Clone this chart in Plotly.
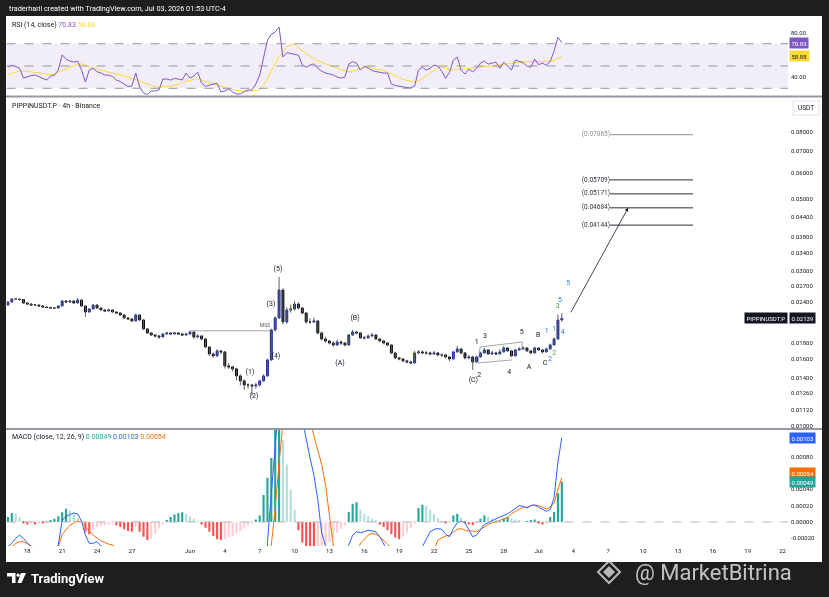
import numpy as np
import pandas as pd
import plotly.graph_objects as go

W, H = 829, 597


def px(x):
    return x / W


def py(y):
    return 1 - y / H


# chart is 4h, read back here as 8h bars (May 16 08:00 -> Jul 03 00:00)
times = pd.date_range("2026-05-16 08:00", periods=144, freq="8h")
first_open = 0.02352
closes = [
    0.02403, 0.02454, 0.02454, 0.02445, 0.02386, 0.02369, 0.02352, 0.02352, 0.02336, 0.02319,
    0.02311, 0.02303, 0.02303, 0.02336, 0.02420, 0.02403, 0.02420, 0.02386, 0.02437, 0.02336,
    0.02239, 0.02287, 0.02352, 0.02303, 0.02271, 0.02255, 0.02271, 0.02239, 0.02223, 0.02192,
    0.02146, 0.02131, 0.02101, 0.02192, 0.02116, 0.01986, 0.01930, 0.01902, 0.01889, 0.01876,
    0.01916, 0.01930, 0.01916, 0.01930, 0.01916, 0.01902, 0.01916, 0.01943, 0.01876, 0.01889,
    0.01849, 0.01747, 0.01663, 0.01640, 0.01699, 0.01687, 0.01528, 0.01517, 0.01496, 0.01423,
    0.01374, 0.01335, 0.01335, 0.01326, 0.01335, 0.01374, 0.01423, 0.01594, 0.01971, 0.02146,
    0.02616, 0.02086, 0.02271, 0.02287, 0.02369, 0.02303, 0.02223, 0.02086, 0.02086, 0.02101,
    0.01930, 0.01849, 0.01823, 0.01797, 0.01772, 0.01810, 0.01797, 0.01772, 0.01902, 0.01943,
    0.01930, 0.01863, 0.01863, 0.01889, 0.01902, 0.01849, 0.01823, 0.01797, 0.01772, 0.01675,
    0.01617, 0.01605, 0.01583, 0.01571, 0.01560, 0.01675, 0.01687, 0.01675, 0.01675, 0.01663,
    0.01675, 0.01651, 0.01651, 0.01628, 0.01605, 0.01687, 0.01723, 0.01675, 0.01617, 0.01628,
    0.01571, 0.01628, 0.01675, 0.01711, 0.01663, 0.01675, 0.01663, 0.01687, 0.01735, 0.01699,
    0.01640, 0.01711, 0.01723, 0.01735, 0.01699, 0.01675, 0.01735, 0.01711, 0.01687, 0.01723,
    0.01772, 0.01849, 0.02116, 0.02139,
]
highs = [
    0.02420, 0.02470, 0.02475, 0.02468, 0.02450, 0.02400, 0.02380, 0.02370, 0.02360, 0.02345,
    0.02330, 0.02325, 0.02320, 0.02350, 0.02440, 0.02435, 0.02440, 0.02430, 0.02470, 0.02445,
    0.02345, 0.02300, 0.02370, 0.02360, 0.02315, 0.02285, 0.02290, 0.02280, 0.02250, 0.02235,
    0.02200, 0.02160, 0.02140, 0.02215, 0.02200, 0.02125, 0.01995, 0.01940, 0.01915, 0.01900,
    0.01930, 0.01945, 0.01940, 0.01945, 0.01940, 0.01925, 0.01930, 0.01960, 0.01950, 0.01910,
    0.01900, 0.01855, 0.01755, 0.01680, 0.01720, 0.01710, 0.01695, 0.01560, 0.01530, 0.01505,
    0.01440, 0.01390, 0.01350, 0.01345, 0.01355, 0.01385, 0.01440, 0.01610, 0.01990, 0.02170,
    0.02870, 0.02650, 0.02310, 0.02360, 0.02420, 0.02400, 0.02320, 0.02240, 0.02140, 0.02150,
    0.02110, 0.01950, 0.01880, 0.01840, 0.01820, 0.01840, 0.01830, 0.01810, 0.01915, 0.01975,
    0.01960, 0.01940, 0.01890, 0.01910, 0.01930, 0.01910, 0.01860, 0.01835, 0.01810, 0.01780,
    0.01690, 0.01630, 0.01615, 0.01595, 0.01585, 0.01700, 0.01710, 0.01705, 0.01700, 0.01690,
    0.01700, 0.01685, 0.01670, 0.01665, 0.01640, 0.01700, 0.01760, 0.01730, 0.01685, 0.01650,
    0.01640, 0.01645, 0.01690, 0.01735, 0.01720, 0.01700, 0.01690, 0.01720, 0.01760, 0.01745,
    0.01710, 0.01725, 0.01745, 0.01755, 0.01745, 0.01710, 0.01750, 0.01745, 0.01720, 0.01740,
    0.01790, 0.01870, 0.02200, 0.02220,
]
lows = [
    0.02340, 0.02395, 0.02435, 0.02430, 0.02370, 0.02355, 0.02340, 0.02335, 0.02320, 0.02305,
    0.02298, 0.02290, 0.02288, 0.02295, 0.02330, 0.02390, 0.02395, 0.02375, 0.02380, 0.02320,
    0.02161, 0.02225, 0.02280, 0.02290, 0.02260, 0.02240, 0.02245, 0.02225, 0.02210, 0.02180,
    0.02130, 0.02120, 0.02085, 0.02095, 0.02100, 0.01970, 0.01915, 0.01890, 0.01870, 0.01850,
    0.01870, 0.01905, 0.01905, 0.01910, 0.01905, 0.01890, 0.01895, 0.01910, 0.01850, 0.01860,
    0.01830, 0.01735, 0.01640, 0.01620, 0.01630, 0.01660, 0.01500, 0.01495, 0.01470, 0.01380,
    0.01330, 0.01290, 0.01300, 0.01240, 0.01300, 0.01320, 0.01365, 0.01415, 0.01585, 0.01950,
    0.02130, 0.02050, 0.02060, 0.02230, 0.02260, 0.02280, 0.02200, 0.02060, 0.02060, 0.02070,
    0.01910, 0.01830, 0.01800, 0.01780, 0.01750, 0.01760, 0.01770, 0.01755, 0.01765, 0.01890,
    0.01910, 0.01850, 0.01845, 0.01855, 0.01880, 0.01835, 0.01810, 0.01780, 0.01755, 0.01660,
    0.01600, 0.01590, 0.01570, 0.01555, 0.01545, 0.01555, 0.01660, 0.01660, 0.01655, 0.01645,
    0.01650, 0.01635, 0.01630, 0.01610, 0.01580, 0.01600, 0.01680, 0.01660, 0.01600, 0.01600,
    0.01485, 0.01560, 0.01620, 0.01665, 0.01650, 0.01655, 0.01650, 0.01655, 0.01680, 0.01690,
    0.01625, 0.01635, 0.01700, 0.01715, 0.01690, 0.01660, 0.01670, 0.01700, 0.01670, 0.01680,
    0.01715, 0.01765, 0.01840, 0.02090,
]

rsi = [
    49.0, 50.8, 49.5, 48.1, 39.2, 40.5, 41.4, 41.9, 40.5, 39.2,
    37.4, 41.0, 41.9, 46.3, 60.0, 56.2, 54.4, 53.5, 54.4, 46.3,
    35.6, 46.3, 48.1, 44.8, 43.7, 41.9, 41.9, 40.5, 37.4, 36.1,
    33.8, 31.6, 32.1, 43.7, 31.2, 25.8, 24.4, 27.6, 27.6, 28.5,
    38.3, 38.3, 37.4, 38.8, 38.3, 37.4, 43.7, 39.2, 41.0, 44.4,
    34.7, 31.6, 32.9, 33.8, 34.5, 26.7, 27.6, 29.4, 26.7, 24.9,
    24.9, 27.1, 28.5, 28.5, 33.8, 41.9, 56.2, 73.1, 78.5, 80.5,
    85.0, 58.0, 62.0, 61.1, 60.6, 59.7, 50.8, 49.0, 50.8, 52.0,
    48.1, 45.4, 43.7, 42.8, 41.9, 40.1, 39.2, 40.1, 51.7, 53.8,
    52.6, 46.3, 49.9, 48.1, 45.9, 45.0, 44.1, 43.7, 43.7, 33.8,
    32.5, 31.6, 31.2, 30.7, 30.3, 32.1, 46.3, 49.0, 46.3, 48.1,
    50.8, 49.9, 45.4, 38.9, 44.4, 55.3, 58.0, 46.3, 42.8, 47.2,
    44.6, 48.1, 52.6, 54.4, 51.7, 52.6, 53.5, 47.9, 53.5, 49.9,
    46.3, 55.3, 54.0, 53.0, 49.9, 49.0, 56.2, 51.2, 52.6, 50.8,
    54.0, 63.3, 75.8, 70.83,
]
rsi_ma = [
    42.2, 43.5, 44.8, 45.6, 45.5, 45.2, 44.9, 44.6, 44.0, 43.2,
    42.5, 42.0, 42.8, 44.5, 46.0, 47.6, 49.2, 50.2, 51.5, 52.0,
    50.5, 49.3, 48.0, 47.0, 46.2, 45.6, 45.0, 44.0, 42.9, 42.0,
    41.1, 40.0, 38.8, 37.4, 36.2, 35.0, 33.8, 32.6, 31.3, 31.0,
    31.2, 31.6, 32.0, 32.6, 33.5, 35.0, 36.2, 37.0, 38.2, 38.7,
    37.5, 36.5, 35.5, 34.5, 33.5, 32.2, 31.0, 29.8, 28.7, 28.2,
    27.7, 27.3, 27.0, 27.5, 28.0, 28.5, 33.0, 38.5, 45.5, 52.5,
    58.5, 62.5, 67.1, 69.0, 69.8, 66.5, 63.3, 61.0, 59.0, 56.8,
    54.8, 53.3, 52.0, 50.5, 49.3, 47.5, 46.3, 45.5, 44.9, 45.5,
    46.5, 47.5, 48.8, 49.0, 47.8, 47.0, 46.5, 46.2, 44.5, 42.5,
    40.5, 39.2, 38.0, 37.0, 36.3, 35.8, 36.5, 38.8, 41.0, 43.4,
    46.0, 48.5, 48.8, 48.0, 47.0, 46.3, 46.6, 47.0, 47.3, 47.8,
    48.1, 48.4, 48.7, 49.1, 49.4, 49.8, 50.1, 50.5, 50.9, 51.6,
    52.3, 53.0, 53.7, 53.8, 53.8, 53.8, 53.8, 53.8, 53.8, 54.0,
    54.3, 55.0, 57.0, 58.88,
]

macd = [
    -0.00030, -0.00026, -0.00020, -0.00016, -0.00020, -0.00026, -0.00032, -0.00036, -0.00038, -0.00040,
    -0.00040, -0.00038, -0.00034, -0.00028, 0.00002, 0.00007, 0.00009, 0.00011, 0.00010, 0.00001,
    -0.00016, -0.00026, -0.00026, -0.00024, -0.00029, -0.00032, -0.00034, -0.00037, -0.00040, -0.00044,
    -0.00049, -0.00053, -0.00058, -0.00055, -0.00058, -0.00066, -0.00074, -0.00080, -0.00085, -0.00088,
    -0.00087, -0.00085, -0.00083, -0.00080, -0.00078, -0.00077, -0.00075, -0.00071, -0.00072, -0.00072,
    -0.00074, -0.00083, -0.00095, -0.00105, -0.00107, -0.00108, -0.00120, -0.00130, -0.00138, -0.00148,
    -0.00158, -0.00166, -0.00170, -0.00172, -0.00170, -0.00162, -0.00148, -0.00025, 0.00035, 0.00094,
    0.00150, 0.00160, 0.00170, 0.00172, 0.00170, 0.00155, 0.00125, 0.00099, 0.00078, 0.00057,
    0.00027, -0.00013, -0.00032, -0.00045, -0.00052, -0.00055, -0.00052, -0.00045, -0.00028, -0.00016,
    -0.00012, -0.00013, -0.00012, -0.00010, -0.00011, -0.00012, -0.00018, -0.00028, -0.00035, -0.00045,
    -0.00055, -0.00062, -0.00066, -0.00068, -0.00068, -0.00058, -0.00048, -0.00030, -0.00020, -0.00012,
    -0.00009, -0.00008, -0.00009, -0.00015, -0.00018, -0.00008, -0.00001, 0.00001, -0.00001, -0.00010,
    -0.00018, -0.00016, -0.00010, -0.00003, -0.00001, 0.00002, 0.00004, 0.00006, 0.00008, 0.00010,
    0.00013, 0.00016, 0.00020, 0.00019, 0.00017, 0.00020, 0.00021, 0.00018, 0.00015, 0.00013,
    0.00015, 0.00030, 0.00073, 0.00103,
]
signal = [
    -0.00032, -0.00030, -0.00026, -0.00024, -0.00024, -0.00027, -0.00029, -0.00031, -0.00033, -0.00035,
    -0.00037, -0.00038, -0.00038, -0.00030, -0.00015, -0.00009, -0.00004, -0.00001, 0.00001, 0.00000,
    -0.00006, -0.00011, -0.00016, -0.00020, -0.00023, -0.00025, -0.00027, -0.00028, -0.00031, -0.00034,
    -0.00038, -0.00042, -0.00046, -0.00050, -0.00053, -0.00057, -0.00062, -0.00067, -0.00072, -0.00076,
    -0.00079, -0.00081, -0.00082, -0.00082, -0.00081, -0.00080, -0.00079, -0.00077, -0.00076, -0.00075,
    -0.00075, -0.00077, -0.00081, -0.00087, -0.00092, -0.00097, -0.00103, -0.00110, -0.00117, -0.00125,
    -0.00133, -0.00140, -0.00147, -0.00152, -0.00155, -0.00155, -0.00150, -0.00080, -0.00028, 0.00017,
    0.00072, 0.00120, 0.00140, 0.00155, 0.00163, 0.00165, 0.00160, 0.00150, 0.00125, 0.00105,
    0.00088, 0.00070, 0.00045, 0.00009, -0.00028, -0.00040, -0.00046, -0.00050, -0.00050, -0.00046,
    -0.00040, -0.00026, -0.00021, -0.00016, -0.00014, -0.00015, -0.00018, -0.00022, -0.00027, -0.00032,
    -0.00037, -0.00043, -0.00049, -0.00054, -0.00058, -0.00060, -0.00058, -0.00053, -0.00046, -0.00040,
    -0.00034, -0.00022, -0.00019, -0.00017, -0.00016, -0.00012, -0.00009, -0.00008, -0.00010, -0.00011,
    -0.00011, -0.00012, -0.00009, -0.00005, -0.00003, -0.00001, 0.00000, 0.00002, 0.00004, 0.00005,
    0.00010, 0.00013, 0.00016, 0.00018, 0.00018, 0.00020, 0.00020, 0.00020, 0.00018, 0.00016,
    0.00018, 0.00023, 0.00040, 0.00054,
]
hist = [
    0.00006, 0.00011, 0.00010, 0.00006, -0.00002, -0.00003, -0.00002, -0.00003, -0.00002, -0.00002,
    -0.00001, 0.00002, 0.00004, 0.00007, 0.00012, 0.00016, 0.00014, 0.00010, 0.00005, 0.00001,
    -0.00012, -0.00015, -0.00010, -0.00006, -0.00005, -0.00004, -0.00003, -0.00002, -0.00004, -0.00006,
    -0.00009, -0.00011, -0.00012, -0.00006, -0.00012, -0.00018, -0.00022, -0.00020, -0.00014, -0.00008,
    -0.00003, 0.00002, 0.00006, 0.00009, 0.00011, 0.00012, 0.00010, 0.00007, 0.00004, 0.00001,
    -0.00003, -0.00007, -0.00012, -0.00017, -0.00021, -0.00022, -0.00021, -0.00019, -0.00017, -0.00014,
    -0.00011, -0.00008, -0.00005, -0.00002, 0.00003, 0.00008, 0.00033, 0.00054, 0.00078, 0.00130,
    0.00140, 0.00100, 0.00070, 0.00039, 0.00015, -0.00010, -0.00025, -0.00032, -0.00036, -0.00036,
    -0.00034, -0.00030, -0.00028, -0.00024, -0.00019, -0.00013, -0.00008, -0.00004, 0.00012, 0.00022,
    0.00024, 0.00015, 0.00010, 0.00007, 0.00004, 0.00002, -0.00003, -0.00006, -0.00010, -0.00015,
    -0.00019, -0.00021, -0.00018, -0.00013, -0.00008, -0.00002, 0.00017, 0.00021, 0.00020, 0.00015,
    0.00010, 0.00005, 0.00001, -0.00002, -0.00001, 0.00008, 0.00010, 0.00005, -0.00002, -0.00003,
    -0.00004, -0.00002, 0.00004, 0.00008, 0.00006, 0.00004, 0.00003, 0.00002, 0.00004, 0.00006,
    0.00005, 0.00003, 0.00002, 0.00001, 0.00001, 0.00002, 0.00003, -0.00002, -0.00003, -0.00002,
    0.00006, 0.00012, 0.00035, 0.00049,
]

tick_dates = ["2026-05-18", "2026-05-21", "2026-05-24", "2026-05-27", "2026-06-01", "2026-06-04",
              "2026-06-07", "2026-06-10", "2026-06-13", "2026-06-16", "2026-06-19", "2026-06-22",
              "2026-06-25", "2026-06-28", "2026-07-01", "2026-07-04", "2026-07-07", "2026-07-10",
              "2026-07-13", "2026-07-16", "2026-07-19", "2026-07-22"]
tick_labels = ["18", "21", "24", "27", "Jun", "4", "7", "10", "13", "16", "19", "22",
               "25", "28", "Jul", "4", "7", "10", "13", "16", "19", "22"]

price_ticks = [0.08, 0.07, 0.06, 0.05, 0.044, 0.038, 0.034, 0.03, 0.027, 0.024,
               0.018, 0.016, 0.014, 0.0126, 0.0112, 0.01]
rsi_ticks = [80, 40]
macd_ticks = [0.0008, 0.0004, 0.0002, 0.0, -0.0002]

# target levels drawn on the right
targets = [0.07865, 0.05709, 0.05171, 0.04684, 0.04144]
target_start = "2026-07-07 03:30"
target_end = "2026-07-14 07:00"

# elliott wave labels, one group per colour
wave_black_text = ["(5)", "(3)", "(4)", "(1)", "(2)", "(B)", "(A)", "1", "3", "5", "B", "(C)",
                   "2", "4", "A", "C"]
wave_black_time = ["2026-06-08 13:48", "2026-06-07 23:20", "2026-06-08 09:30", "2026-06-06 03:58",
                   "2026-06-06 12:13", "2026-06-15 04:48", "2026-06-13 21:50", "2026-06-25 16:12",
                   "2026-06-26 09:22", "2026-06-29 13:07", "2026-06-30 23:25", "2026-06-25 09:10",
                   "2026-06-25 21:33", "2026-06-28 11:31", "2026-06-30 04:13", "2026-07-01 13:16"]
wave_black_price = [0.03036, 0.02369, 0.01640, 0.01464, 0.01236, 0.02146, 0.01560, 0.01810,
                    0.01889, 0.01936, 0.01902, 0.01377, 0.01433, 0.01457, 0.01513, 0.01557]
wave_blue_text = ["1", "2", "4", "5", "5"]
wave_blue_time = ["2026-07-01 16:47", "2026-07-01 23:36", "2026-07-03 01:50", "2026-07-02 20:14",
                  "2026-07-03 13:24"]
wave_blue_price = [0.01947, 0.01605, 0.01933, 0.02437, 0.02752]
wave_green_text = ["1", "2", "3"]
wave_green_time = ["2026-07-02 08:28", "2026-07-02 08:28", "2026-07-02 15:29"]
wave_green_price = [0.01986, 0.01671, 0.02324]

mss_price = 0.0196
mss_time = ["2026-06-01 00:30", "2026-06-07 21:16"]
channel_time = ["2026-06-28 17:07", "2026-06-25 19:05", "2026-06-25 23:13", "2026-06-29 13:58",
                "2026-06-29 13:58"]
channel_price = [0.01594, 0.01560, 0.01747, 0.01810, 0.01711]

FONT = "Roboto, sans-serif"
INK = "#131722"
UP = "#1c2a9c"
DOWN = "#000000"

opens = [first_open] + closes[:-1]
body_hi = np.maximum(opens, closes)
body_lo = np.minimum(opens, closes)

wick_x, wick_y = [], []
for t, lo, hi in zip(times, lows, highs):
    wick_x += [t, t, None]
    wick_y += [lo, hi, None]

hist_colors = []
prev = 0
for h in hist:
    if h >= 0:
        hist_colors.append("#26a69a" if h >= prev else "#b2dfdb")
    else:
        hist_colors.append("#ff5252" if h <= prev else "#ffcdd2")
    prev = h

fig = go.Figure()

# price pane
fig.add_trace(go.Scatter(x=wick_x, y=wick_y, mode="lines", line=dict(color="#5d606b", width=1),
                         xaxis="x", yaxis="y", hoverinfo="skip"))
fig.add_trace(go.Candlestick(x=times, open=opens, high=body_hi, low=body_lo, close=closes,
                             increasing=dict(line=dict(color=UP, width=1), fillcolor=UP),
                             decreasing=dict(line=dict(color=DOWN, width=1), fillcolor=DOWN),
                             whiskerwidth=0, xaxis="x", yaxis="y"))
fig.add_trace(go.Scatter(x=mss_time, y=[mss_price, mss_price], mode="lines",
                         line=dict(color="#a3a6af", width=1), xaxis="x", yaxis="y"))
fig.add_trace(go.Scatter(x=channel_time, y=channel_price, mode="lines",
                         line=dict(color="#8c8f99", width=0.8), xaxis="x", yaxis="y"))
for i, tp in enumerate(targets):
    col = "#8c8f99" if i == 0 else "#2a2e39"
    fig.add_trace(go.Scatter(x=[target_start, target_end], y=[tp, tp], mode="lines",
                             line=dict(color=col, width=1), xaxis="x", yaxis="y"))
    fig.add_trace(go.Scatter(x=[target_start], y=[tp], mode="text", text=[f"({tp:.5f})"],
                             textposition="middle left",
                             textfont=dict(family=FONT, size=6.5, color=col), xaxis="x", yaxis="y"))
for wt, wx, wy, wc in [(wave_black_text, wave_black_time, wave_black_price, INK),
                       (wave_blue_text, wave_blue_time, wave_blue_price, "#2979ff"),
                       (wave_green_text, wave_green_time, wave_green_price, "#43a047")]:
    fig.add_trace(go.Scatter(x=wx, y=wy, mode="text", text=wt,
                             textfont=dict(family=FONT, size=7, color=wc), xaxis="x", yaxis="y"))
fig.add_trace(go.Scatter(x=["2026-06-07 10:57"], y=[0.02028], mode="text", text=["MSS"],
                         textfont=dict(family=FONT, size=5, color="#50535e"), xaxis="x", yaxis="y"))

# RSI pane
fig.add_trace(go.Scatter(x=times, y=rsi_ma, mode="lines", line=dict(color="#fdd835", width=1),
                         xaxis="x2", yaxis="y2"))
fig.add_trace(go.Scatter(x=times, y=rsi, mode="lines", line=dict(color="#7e57c2", width=1),
                         xaxis="x2", yaxis="y2"))

# MACD pane
fig.add_trace(go.Bar(x=times, y=hist, marker=dict(color=hist_colors, line=dict(width=0)),
                     width=0.55 * 8 * 3600 * 1000, xaxis="x3", yaxis="y3"))
fig.add_trace(go.Scatter(x=times, y=signal, mode="lines", line=dict(color="#ff6d00", width=1),
                         xaxis="x3", yaxis="y3"))
fig.add_trace(go.Scatter(x=times, y=macd, mode="lines", line=dict(color="#2962ff", width=1),
                         xaxis="x3", yaxis="y3"))

xrange = ["2026-05-16 05:02", "2026-07-22 11:10"]
xdom = [px(6.5), px(788)]
xbase = dict(type="date", range=xrange, domain=xdom, showgrid=False, zeroline=False,
             showline=False, ticks="", fixedrange=True, rangeslider=dict(visible=False))
ybase = dict(side="right", showgrid=False, zeroline=False, showline=False, ticks="",
             tickfont=dict(family=FONT, size=6, color=INK), ticklabelstandoff=2)

fig.update_layout(
    width=W, height=H, margin=dict(l=0, r=0, t=0, b=0), template="none",
    paper_bgcolor="#1e1e1e", plot_bgcolor="white", showlegend=False, boxgap=0.3,
    xaxis=dict(xbase, anchor="y", showticklabels=False),
    xaxis2=dict(xbase, anchor="y2", showticklabels=False),
    xaxis3=dict(xbase, anchor="y3", tickvals=tick_dates, ticktext=tick_labels,
                tickfont=dict(family=FONT, size=6, color=INK)),
    yaxis=dict(ybase, anchor="x", type="log", domain=[py(428), py(98)],
               range=[-2.00705, -0.99135], tickvals=price_ticks,
               ticktext=[f"{v:.5f}" for v in price_ticks]),
    yaxis2=dict(ybase, anchor="x2", domain=[py(95.5), py(17.5)], range=[23.54, 93.5],
                tickvals=rsi_ticks, ticktext=[f"{v:.2f}" for v in rsi_ticks]),
    yaxis3=dict(ybase, anchor="x3", domain=[py(546), py(430)], range=[-0.000293, 0.001122],
                tickvals=macd_ticks, ticktext=[f"{v:.5f}" for v in macd_ticks]),
)

shapes = [
    # white chart card over the dark frame
    dict(type="rect", xref="paper", yref="paper", x0=px(6), x1=px(822), y0=py(562), y1=py(16),
         fillcolor="white", line=dict(width=0), layer="below"),
    dict(type="rect", xref="x2 domain", yref="y2", x0=0, x1=1, y0=30, y1=70,
         fillcolor="rgba(126,87,194,0.1)", line=dict(width=0), layer="below"),
    # pane separators
    dict(type="line", xref="paper", yref="paper", x0=px(6), x1=px(822), y0=py(96.5), y1=py(96.5),
         line=dict(color="#9598a1", width=2)),
    dict(type="line", xref="paper", yref="paper", x0=px(6), x1=px(822), y0=py(429), y1=py(429),
         line=dict(color="#9598a1", width=2)),
    # USDT button
    dict(type="rect", xref="paper", yref="paper", x0=px(793), x1=px(819), y0=py(115), y1=py(101),
         fillcolor="white", line=dict(color="#e0e3eb", width=1)),
    dict(type="line", xref="x3 domain", yref="y3", x0=0, x1=1, y0=0, y1=0,
         line=dict(color="#b2b5be", width=1, dash="dash")),
    # tradingview logo mark
    dict(type="path", xref="paper", yref="paper", fillcolor="white", line=dict(width=0),
         path=f"M {px(7)},{py(573)} H {px(15.5)} V {py(583)} H {px(12)} V {py(576.5)} H {px(7)} Z"),
    dict(type="circle", xref="paper", yref="paper", fillcolor="white", line=dict(width=0),
         x0=px(16.5), x1=px(19.8), y0=py(576.8), y1=py(573.5)),
    dict(type="path", xref="paper", yref="paper", fillcolor="white", line=dict(width=0),
         path=f"M {px(21)},{py(573)} H {px(26)} L {px(21.5)},{py(583)} H {px(17.5)} Z"),
    # watermark logo
    dict(type="path", xref="paper", yref="paper", fillcolor="rgba(235,235,235,0.75)",
         line=dict(width=0),
         path=f"M {px(609)},{py(566)} L {px(615)},{py(572)} L {px(609)},{py(578)} "
              f"L {px(603)},{py(572)} Z"),
    dict(type="path", xref="paper", yref="paper", fillcolor="rgba(0,0,0,0)",
         line=dict(color="rgba(235,235,235,0.75)", width=2),
         path=f"M {px(609)},{py(561)} L {px(620)},{py(572)} L {px(609)},{py(583)} "
              f"L {px(598)},{py(572)} Z"),
]
for y in [70, 50, 30]:
    shapes.append(dict(type="line", xref="x2 domain", yref="y2", x0=0, x1=1, y0=y, y1=y,
                       line=dict(color="#9598a1", width=1, dash="dash")))
fig.update_layout(shapes=shapes)


def tag(text, y, yref, bg, fg="white", anchor="left", x=789):
    return dict(text=text, xref="paper", x=px(x), xanchor=anchor, yref=yref, y=y,
                yanchor="middle", showarrow=False, bgcolor=bg, borderpad=1.5,
                font=dict(family=FONT, size=6, color=fg))


def note(text, x, y, size=7, color=INK, anchor="left"):
    return dict(text=text, xref="paper", yref="paper", x=px(x), y=py(y), xanchor=anchor,
                yanchor="middle", showarrow=False, font=dict(family=FONT, size=size, color=color))


annotations = [
    note("traderharii created with TradingView.com, Jul 03, 2026 01:53 UTC-4", 7, 8, 7.3, "white"),
    note('RSI (14, close) <span style="color:#7e57c2">70.83</span> '
         '<span style="color:#fdd835">58.88</span>', 10, 25),
    note("PIPPINUSDT.P · 4h · Binance", 10, 106),
    note('MACD (close, 12, 26, 9) <span style="color:#26a69a">0.00049</span> '
         '<span style="color:#2962ff">0.00103</span> <span style="color:#ff6d00">0.00054</span>',
         10, 437),
    note("USDT", 806, 108, 6.5, INK, "center"),
    note("<b>TradingView</b>", 29, 578, 13, "white"),
    note("@ MarketBitrina", 633, 572, 22, "rgba(235,235,235,0.8)"),
    tag(f"{rsi[-1]:.2f}", rsi[-1], "y2", "#7e57c2"),
    tag(f"{rsi_ma[-1]:.2f}", rsi_ma[-1], "y2", "#fdd835", INK),
    tag("PIPPINUSDT.P", np.log10(closes[-1]), "y", INK, "white", "right", 788),
    tag(f"{closes[-1]:.5f}", np.log10(closes[-1]), "y", INK),
    tag(f"{macd[-1]:.5f}", macd[-1], "y3", "#2962ff"),
    # TradingView nudges overlapping scale labels apart
    tag(f"{signal[-1]:.5f}", signal[-1] + 0.00006, "y3", "#ff6d00"),
    tag(f"{hist[-1]:.5f}", hist[-1], "y3", "#26a69a"),
    # projection arrow into the target zone
    dict(x="2026-07-08 17:00", y=np.log10(0.04684), ax="2026-07-03 17:00", ay=np.log10(0.0221),
         xref="x", yref="y", axref="x", ayref="y", text="", showarrow=True, arrowhead=2,
         arrowsize=0.9, arrowwidth=0.8, arrowcolor=INK),
]
fig.update_layout(annotations=annotations)

# page body has a default margin; pin the figure to the corner.
# the svg layers are composited so small text gets grey (not LCD) antialiasing
fig.write_html("out.html", config={"displayModeBar": False},
               post_script="document.body.style.margin='0';"
                           "document.body.style.background='#1e1e1e';"
                           "document.querySelectorAll('.main-svg').forEach("
                           "function(s){s.style.willChange='transform';});")
